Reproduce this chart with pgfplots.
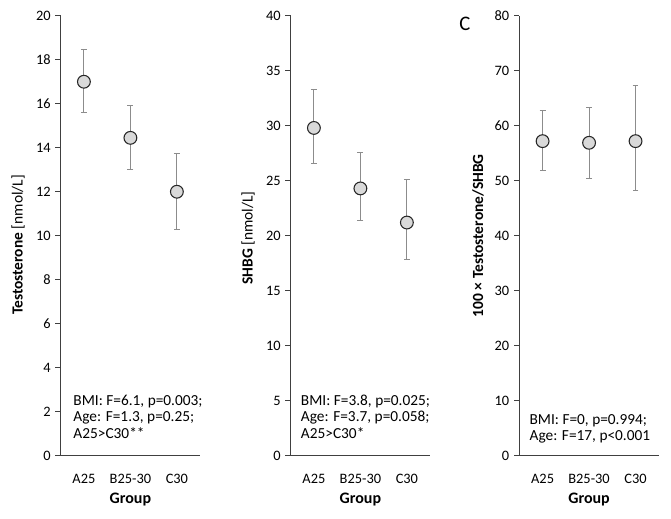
\documentclass[border=0pt]{standalone}
\usepackage{pgfplots}
\pgfplotsset{compat=1.18}
\usepackage{fontspec}
\setmainfont{Carlito}
\definecolor{errgray}{HTML}{8C8C8C}
\definecolor{mfill}{HTML}{D9D9D9}
\definecolor{axgray}{HTML}{404040}
\tikzset{ann/.style={anchor=base west, align=left, inner sep=0pt, font=\fontsize{11.5}{12.2}\selectfont}}
\pgfplotsset{
  panel/.style={
    anchor=south west,
    scale only axis,
    width=104.6pt, height=330pt,
    xmin=0.5, xmax=3.5,
    ymin=0,
    axis lines*=left,
    axis line style={axgray, line width=0.8pt},
    tick align=outside,
    tick style={axgray, line width=0.8pt},
    major tick length=4pt,
    xtick={1,2,3},
    xticklabels={A25,B25-30,C30},
    x tick style={draw=none},
    extra x ticks={1.5,2.5,3.5},
    extra x tick labels={},
    extra x tick style={tick style={axgray, line width=0.8pt}, major tick length=4pt},
    xticklabel style={font=\fontsize{10.8}{12}\selectfont, yshift=-6pt},
    yticklabel style={font=\fontsize{10.8}{12}\selectfont},
    /pgf/number format/assume math mode=true,
    xlabel={\textbf{Group}},
    xlabel style={font=\fontsize{12}{14}\selectfont, at={(axis description cs:0.5,-0.1)}, anchor=center},
    ylabel style={font=\fontsize{11.6}{14}\selectfont, anchor=center, rotate=0},
    clip=false,
  },
  pts/.style={
    only marks,
    mark=*,
    mark size=4.8pt,
    mark options={fill=mfill, draw=black!85, line width=0.8pt},
    error bars/.cd,
      y dir=both, y explicit,
      error bar style={errgray, line width=0.8pt},
      error mark options={rotate=90, mark size=2.2pt, errgray, line width=0.8pt},
  },
}
\begin{document}
\begin{tikzpicture}
\path (0,0) rectangle (503.25pt,388.5pt);
% Panel A
\begin{axis}[panel, at={(45.5pt,46.7pt)}, ymax=20, ytick={0,2,...,20},
  ylabel={\textbf{Testosterone} [nmol/L]},
  ylabel style={at={(axis description cs:-0.306,0.479)}}]
\addplot+[pts] table[x=x, y=y, y error plus=ep, y error minus=em] {
x y ep em
1 17.0 1.45 1.40
2 14.45 1.45 1.45
3 12.0 1.72 1.70
};
\node[ann] at (axis description cs:0.09,0.04) {BMI: F=6.1, p=0.003;\\Age: F=1.3, p=0.25;\\A25>C30**};
\end{axis}
% Panel B
\begin{axis}[panel, at={(218.0pt,46.7pt)}, ymax=40, ytick={0,5,...,40},
  ylabel={\textbf{SHBG} [nmol/L]},
  ylabel style={at={(axis description cs:-0.306,0.495)}}]
\addplot+[pts] table[x=x, y=y, y error plus=ep, y error minus=em] {
x y ep em
1 29.8 3.5 3.2
2 24.3 3.3 2.9
3 21.2 3.9 3.35
};
\node[ann] at (axis description cs:0.072,0.04) {BMI: F=3.8, p=0.025;\\Age: F=3.7, p=0.058;\\A25>C30*};
\end{axis}
% Panel C
\begin{axis}[panel, at={(389.5pt,46.7pt)}, ymax=80, ytick={0,10,...,80},
  ylabel={\textbf{100 × Testosterone/SHBG}},
  ylabel style={at={(axis description cs:-0.296,0.5)}}]
\addplot+[pts] table[x=x, y=y, y error plus=ep, y error minus=em] {
x y ep em
1 57.2 5.6 5.4
2 56.9 6.4 6.5
3 57.2 10.1 8.9
};
\node[ann] at (axis description cs:0.072,0.035) {BMI: F=0, p=0.994;\\Age: F=17, p<0.001};
\node[font=\fontsize{15.5}{18}\selectfont] at (axis description cs:-0.39,0.982) {C};
\end{axis}
\end{tikzpicture}
\end{document}
